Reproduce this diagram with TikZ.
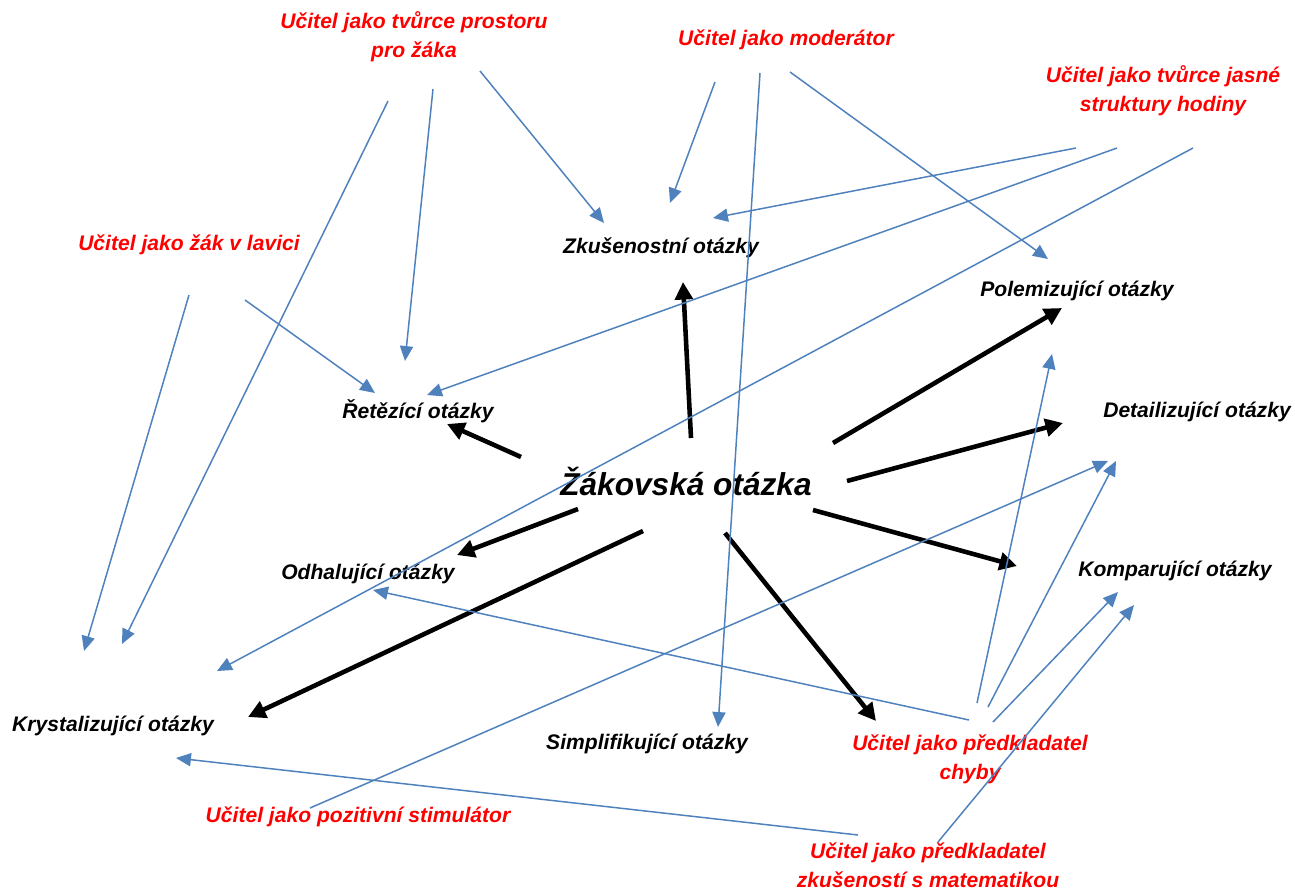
\documentclass[tikz,border=0pt]{standalone}
\usepackage{fontspec}
\setmainfont{Liberation Sans}
\usetikzlibrary{arrows.meta,calc}
\definecolor{cteach}{HTML}{FF0000}
\definecolor{clink}{HTML}{4F81BD}

\begin{document}
\begin{tikzpicture}[x=0.02cm, y=-0.02cm,
    font=\fontsize{12}{16.5}\selectfont\bfseries\itshape,
    teacher/.style={text=cteach, align=center, inner sep=1pt},
    qtype/.style={text=black, inner sep=1pt},
    link/.style={clink, line width=0.85pt, -{Triangle[length=8.5pt,width=7.5pt]}},
    push/.style={black, line width=2.6pt, -{Triangle[length=10pt,width=10pt]}}]
  \useasboundingbox (0,0) rectangle (1295,890);
  % teacher roles (red)
  \node[teacher] (tspace) at (414,37)  {Učitel jako tvůrce prostoru\\pro žáka};
  \node[teacher] (tmod)   at (786,40)  {Učitel jako moderátor};
  \node[teacher] (tstruc) at (1163,91) {Učitel jako tvůrce jasné\\struktury hodiny};
  \node[teacher] (tdesk)  at (189,245) {Učitel jako žák v lavici};
  \node[teacher] (terr)   at (970,759) {Učitel jako předkladatel\\chyby};
  \node[teacher] (tstim)  at (358,817) {Učitel jako pozitivní stimulátor};
  \node[teacher] (texp)   at (928,865) {Učitel jako předkladatel\\zkušeností s matematikou};
  % question types (black)
  \node[qtype] (qzk)  at (661,248)  {Zkušenostní otázky};
  \node[qtype] (qpol) at (1077,291) {Polemizující otázky};
  \node[qtype] (qret) at (418,411)  {Řetězící otázky};
  \node[qtype] (qdet) at (1197,412) {Detailizující otázky};
  \node[qtype] (qodh) at (368,574)  {Odhalující otázky};
  \node[qtype] (qkom) at (1175,571) {Komparující otázky};
  \node[qtype] (qkry) at (113,726)  {Krystalizující otázky};
  \node[qtype] (qsim) at (647,744)  {Simplifikující otázky};
  \node[qtype, font=\fontsize{18}{20}\selectfont\bfseries\itshape] (ask) at (686,481) {Žákovská otázka};
  % thick arrows out of the pupil's question
  \draw[push] ($(ask)+(5,-43)$)    -- ($(qzk)+(22,34)$);
  \draw[push] ($(ask)+(-165,-24)$) -- ($(qret)+(29,13)$);
  \draw[push] ($(ask)+(147,-38)$)  -- ($(qpol)+(-15,17)$);
  \draw[push] ($(ask)+(161,0)$)    -- ($(qdet)+(-134,11)$);
  \draw[push] ($(ask)+(-108,28)$)  -- ($(qodh)+(89,-19)$);
  \draw[push] ($(ask)+(127,29)$)   -- ($(qkom)+(-158,-5)$);
  \draw[push] ($(ask)+(-43,50)$)   -- ($(qkry)+(135,-9)$);
  \draw[push] ($(ask)+(39,52)$)    -- ($(terr)+(-94,-38)$);
  % teacher roles -> question types
  \draw[link] ($(tspace)+(-26,64)$) -- ($(qkry)+(9,-82)$);
  \draw[link] ($(tspace)+(19,52)$)  -- ($(qret)+(-13,-50)$);
  \draw[link] ($(tspace)+(66,34)$)  -- ($(qzk)+(-57,-25)$);
  \draw[link] ($(tdesk)+(0,50)$)    -- ($(qkry)+(-29,-75)$);
  \draw[link] ($(tdesk)+(56,55)$)   -- ($(qret)+(-43,-18)$);
  \draw[link] ($(tmod)+(-71,42)$)   -- ($(qzk)+(9,-45)$);
  \draw[link] ($(tmod)+(-26,33)$)   -- ($(qsim)+(71,-17)$);
  \draw[link] ($(tmod)+(4,32)$)     -- ($(qpol)+(-29,-32)$);
  \draw[link] ($(tstruc)+(-87,57)$) -- ($(qzk)+(52,-30)$);
  \draw[link] ($(tstruc)+(-46,57)$) -- ($(qret)+(9,-16)$);
  \draw[link] ($(tstruc)+(30,57)$)  -- ($(qkry)+(104,-55)$);
  \draw[link] ($(terr)+(-1,-39)$)   -- ($(qodh)+(5,16)$);
  \draw[link] ($(terr)+(7,-56)$)    -- ($(qpol)+(-25,63)$);
  \draw[link] ($(terr)+(18,-52)$)   -- ($(qdet)+(-81,49)$);
  \draw[link] ($(terr)+(23,-37)$)   -- ($(qkom)+(-57,21)$);
  \draw[link] ($(tstim)+(-48,-9)$)  -- ($(qdet)+(-89,49)$);
  \draw[link] ($(texp)+(-70,-30)$)  -- ($(qkry)+(63,32)$);
  \draw[link] ($(texp)+(10,-23)$)   -- ($(qkom)+(-41,34)$);
\end{tikzpicture}
\end{document}
